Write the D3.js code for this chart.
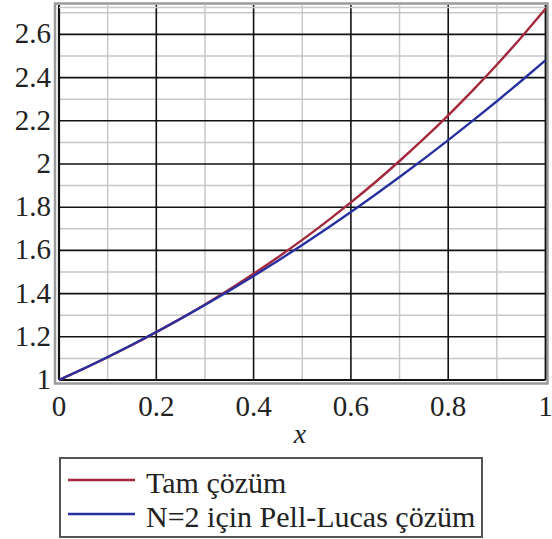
<!DOCTYPE html>
<html>
<head>
<meta charset="utf-8">
</head>
<body style="margin:0">
<script src="https://cdn.jsdelivr.net/npm/d3@7"></script>
<script>
// x values shared by both curves
var xs = [0, 0.05, 0.1, 0.15, 0.2, 0.25, 0.3, 0.35, 0.4, 0.45, 0.5,
          0.55, 0.6, 0.65, 0.7, 0.75, 0.8, 0.85, 0.9, 0.95, 1];
// exact solution (red)
var tam = [1, 1.0513, 1.1052, 1.1618, 1.2214, 1.2840, 1.3499, 1.4191, 1.4918, 1.5683, 1.6487,
           1.7333, 1.8221, 1.9155, 2.0138, 2.1170, 2.2255, 2.3396, 2.4596, 2.5857, 2.7183];
// N=2 Pell-Lucas solution (blue)
var pell = [1, 1.0522, 1.1066, 1.1634, 1.2224, 1.2838, 1.3474, 1.4134, 1.4816, 1.5522, 1.6250,
            1.7002, 1.7776, 1.8574, 1.9394, 2.0238, 2.1104, 2.1994, 2.2906, 2.3842, 2.48];

var xTicks = [0, 0.2, 0.4, 0.6, 0.8, 1];
var yTicks = [1, 1.2, 1.4, 1.6, 1.8, 2, 2.2, 2.4, 2.6];
var xMinor = [0.1, 0.3, 0.5, 0.7, 0.9];
var yMinor = [1.1, 1.3, 1.5, 1.7, 1.9, 2.1, 2.3, 2.5, 2.7];

var series = [
  { name: "Tam çözüm", values: tam, color: "#a3283c" },
  { name: "N=2 için Pell-Lucas çözüm", values: pell, color: "#2630a0" }
];

var W = 552, H = 539;
var svg = d3.select("body").append("svg")
  .attr("width", W)
  .attr("height", H);

var x = d3.scaleLinear().domain([0, 1]).range([59, 545.5]);
var y = d3.scaleLinear().domain([1, 2.736]).range([380, 5]);

// minor grid
svg.selectAll(".vminor").data(xMinor).enter().append("line")
  .attr("x1", d => x(d)).attr("x2", d => x(d))
  .attr("y1", y(2.736)).attr("y2", y(1))
  .attr("stroke", "#c8c8c8").attr("stroke-width", 1.5);
svg.selectAll(".hminor").data(yMinor).enter().append("line")
  .attr("x1", x(0)).attr("x2", x(1))
  .attr("y1", d => y(d)).attr("y2", d => y(d))
  .attr("stroke", "#c8c8c8").attr("stroke-width", 1.5);

// major grid
svg.selectAll(".vmajor").data(xTicks.slice(1, -1)).enter().append("line")
  .attr("x1", d => x(d)).attr("x2", d => x(d))
  .attr("y1", y(2.736)).attr("y2", y(1))
  .attr("stroke", "#111").attr("stroke-width", 1.6);
svg.selectAll(".hmajor").data(yTicks.slice(1)).enter().append("line")
  .attr("x1", x(0)).attr("x2", x(1))
  .attr("y1", d => y(d)).attr("y2", d => y(d))
  .attr("stroke", "#111").attr("stroke-width", 1.6);

// frame: grey outer shadow and black inner edges
svg.append("rect")
  .attr("x", x(0) - 4).attr("y", y(2.736) - 1.5)
  .attr("width", x(1) - x(0) + 6).attr("height", y(1) - y(2.736) + 5)
  .attr("fill", "none").attr("stroke", "#9a9a9a").attr("stroke-width", 2.5);
svg.append("line")
  .attr("x1", x(0)).attr("x2", x(0)).attr("y1", y(2.736)).attr("y2", y(1))
  .attr("stroke", "#111").attr("stroke-width", 2.2);
svg.append("line")
  .attr("x1", x(0)).attr("x2", x(1)).attr("y1", y(1)).attr("y2", y(1))
  .attr("stroke", "#111").attr("stroke-width", 2.2);
svg.append("line")
  .attr("x1", x(1)).attr("x2", x(1)).attr("y1", y(2.736)).attr("y2", y(1))
  .attr("stroke", "#111").attr("stroke-width", 1.8);
svg.append("line")
  .attr("x1", x(0)).attr("x2", x(1)).attr("y1", y(2.736) + 2.5).attr("y2", y(2.736) + 2.5)
  .attr("stroke", "#c8c8c8").attr("stroke-width", 1.5);

// tick labels
svg.selectAll(".ylab").data(yTicks).enter().append("text")
  .attr("x", 51).attr("y", d => y(d) + 9)
  .attr("text-anchor", "end")
  .style("font-family", "'Liberation Serif'")
  .style("font-size", "29px")
  .style("fill", "#222")
  .text(d => d3.format("")(d));
svg.selectAll(".xlab").data(xTicks).enter().append("text")
  .attr("x", d => x(d)).attr("y", 416)
  .attr("text-anchor", "middle")
  .style("font-family", "'Liberation Serif'")
  .style("font-size", "29px")
  .style("fill", "#222")
  .text(d => d3.format("")(d));

svg.append("text")
  .attr("x", 300).attr("y", 443)
  .attr("text-anchor", "middle")
  .style("font-family", "'Liberation Serif'")
  .style("font-size", "28px")
  .style("font-style", "italic")
  .style("fill", "#222")
  .text("x");

// curves
var line = d3.line()
  .x((d, i) => x(xs[i]))
  .y(d => y(d))
  .curve(d3.curveMonotoneX);
series.forEach(function (s) {
  svg.append("path")
    .attr("d", line(s.values))
    .attr("fill", "none")
    .attr("stroke", s.color)
    .attr("stroke-width", 2.4);
});

// legend
svg.append("rect")
  .attr("x", 60).attr("y", 458)
  .attr("width", 422).attr("height", 79)
  .attr("fill", "#fff").attr("stroke", "#555").attr("stroke-width", 2);
series.forEach(function (s, i) {
  var ly = 480 + i * 34;
  svg.append("line")
    .attr("x1", 68).attr("x2", 135).attr("y1", ly).attr("y2", ly)
    .attr("stroke", s.color).attr("stroke-width", 2.4);
  svg.append("text")
    .attr("x", 146).attr("y", ly + 13)
    .style("font-family", "'Liberation Serif'")
    .style("font-size", "30px")
    .style("fill", "#222")
    .text(s.name);
});
</script>
</body>
</html>
